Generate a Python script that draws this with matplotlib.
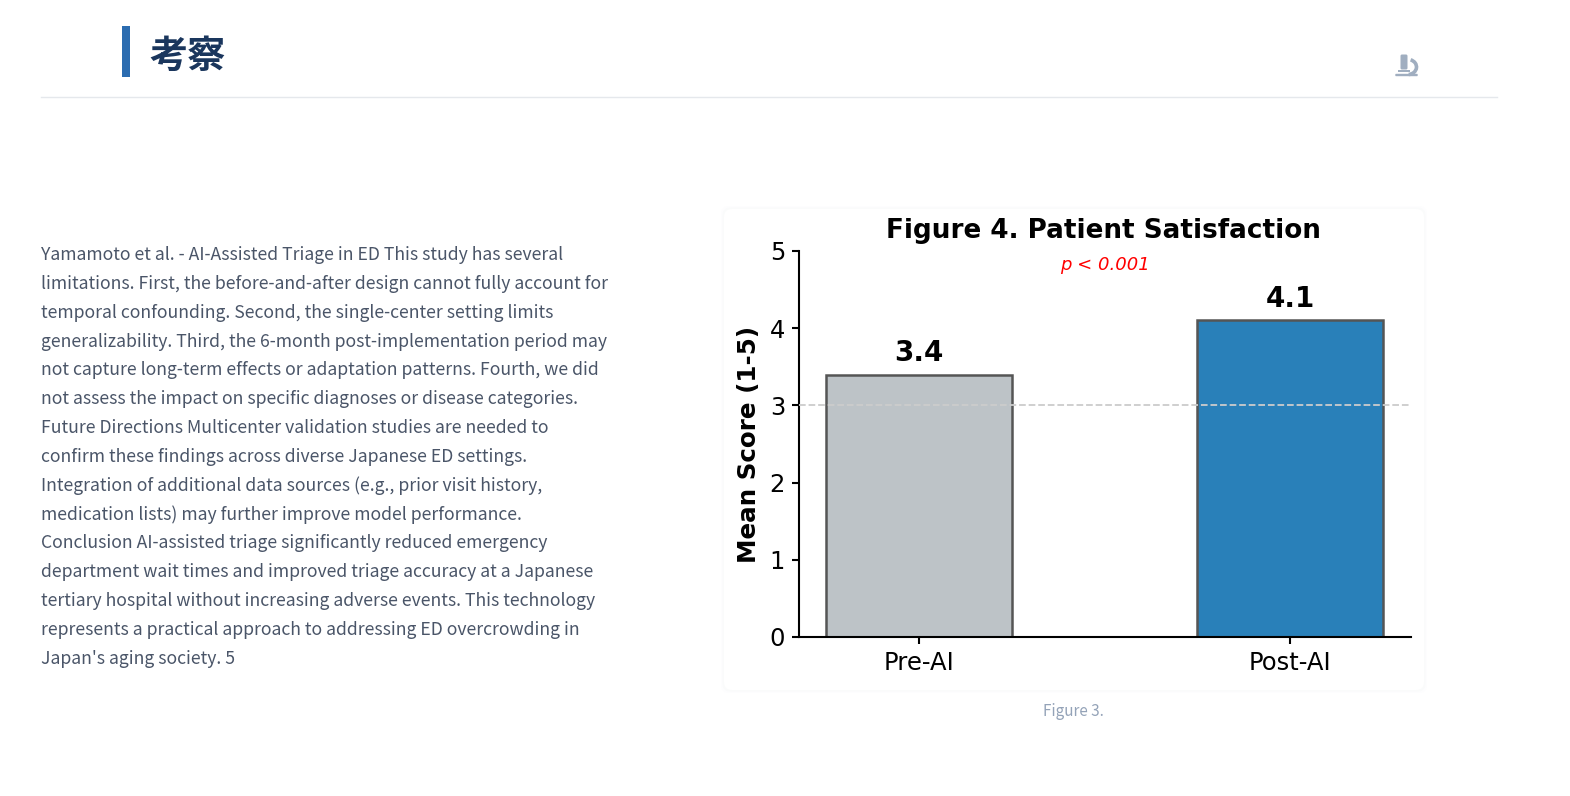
import matplotlib
matplotlib.use("Agg")
import matplotlib.pyplot as plt
from matplotlib.patches import FancyBboxPatch, Rectangle, Arc

W, H = 1570, 796

groups = ["Pre-AI", "Post-AI"]
scores = [3.4, 4.1]
bar_colors = ["#bdc3c7", "#2980b9"]
y_ticks = [0, 1, 2, 3, 4, 5]

heading = "考察"
caption = "Figure 3."
body_lines = [
    "Yamamoto et al. - AI-Assisted Triage in ED This study has several",
    "limitations. First, the before-and-after design cannot fully account for",
    "temporal confounding. Second, the single-center setting limits",
    "generalizability. Third, the 6-month post-implementation period may",
    "not capture long-term effects or adaptation patterns. Fourth, we did",
    "not assess the impact on specific diagnoses or disease categories.",
    "Future Directions Multicenter validation studies are needed to",
    "confirm these findings across diverse Japanese ED settings.",
    "Integration of additional data sources (e.g., prior visit history,",
    "medication lists) may further improve model performance.",
    "Conclusion AI-assisted triage significantly reduced emergency",
    "department wait times and improved triage accuracy at a Japanese",
    "tertiary hospital without increasing adverse events. This technology",
    "represents a practical approach to addressing ED overcrowding in",
    "Japan's aging society. 5",
]

fig = plt.figure(figsize=(W / 100, H / 100), dpi=100, facecolor="white")

# page layer in pixel coordinates
page = fig.add_axes([0, 0, 1, 1])
page.set_xlim(0, W)
page.set_ylim(H, 0)
page.axis("off")

page.add_patch(Rectangle((122, 26), 8, 51, color="#2b6cb0", lw=0))
page.text(149.5, 56, heading, fontsize=27.5, fontweight="bold", color="#1a365d",
          family=["Noto Sans CJK JP", "DejaVu Sans"], va="center", ha="left")
page.plot([41, 1497], [97, 97], color="#e5e8ec", lw=1)

# microscope icon
icon = "#a0aec0"
page.add_patch(FancyBboxPatch((1402, 56), 4, 12, boxstyle="round,pad=1.5", color=icon, lw=0))
page.add_patch(Rectangle((1398, 70), 12, 1.5, color=icon, lw=0))
page.add_patch(FancyBboxPatch((1396, 74.5), 21, 1, boxstyle="round,pad=0.7", color=icon, lw=0))
page.add_patch(Arc((1408, 67), 17, 15, theta1=-70, theta2=85, color=icon, lw=2.6))

for i, line in enumerate(body_lines):
    page.text(41, 255 + i * 28.85, line, fontsize=12.67, color="#4a5568",
              family=["Noto Sans CJK JP", "DejaVu Sans"], va="center", ha="left")

# chart card
for grow, col in [(3, "#fdfdfe"), (1.5, "#fafbfb")]:
    page.add_patch(FancyBboxPatch((724 - grow + 8, 209 - grow + 8), 700 + 2 * grow - 16, 481 + 2 * grow - 16,
                                  boxstyle="round,pad=8", color=col, lw=0))
page.add_patch(FancyBboxPatch((732, 217), 684, 465, boxstyle="round,pad=8", color="white", lw=0))
page.text(1073.5, 712, caption, fontsize=11, color="#94a3b8",
          family=["Noto Sans CJK JP", "DejaVu Sans"], va="center", ha="center")

# bar chart
ax = fig.add_axes([799 / W, 1 - 637 / H, (1411 - 799) / W, (637 - 251) / H])
ax.patch.set_alpha(0)
ax.bar(range(len(groups)), scores, width=0.5, color=bar_colors, edgecolor="#555555", linewidth=1.8, zorder=2)
ax.axhline(3, color="#cccccc", linestyle="--", linewidth=1.3, zorder=3)
ax.set_xlim(-0.323, 1.326)
ax.set_ylim(0, 5)
ax.set_yticks(y_ticks)
ax.set_xticks(range(len(groups)))
ax.set_xticklabels(groups)
ax.tick_params(axis="both", labelsize=17.5, width=1.5, length=5, pad=5)
ax.set_ylabel("Mean Score (1-5)", fontsize=17.7, fontweight="bold", labelpad=6.5)
ax.spines["top"].set_visible(False)
ax.spines["right"].set_visible(False)
ax.spines["left"].set_linewidth(1.5)
ax.spines["bottom"].set_linewidth(1.5)

for i, v in enumerate(scores):
    ax.text(i, v + 0.1, f"{v}", ha="center", va="bottom", fontsize=20, fontweight="bold")
ax.text(0.5, 4.82, "p < 0.001", ha="center", va="center", fontsize=13, color="red", style="italic")
page.text(1103.5, 231, "Figure 4. Patient Satisfaction", ha="center", va="center", fontsize=18.9, fontweight="bold")

fig.savefig("out.png", dpi=100)
